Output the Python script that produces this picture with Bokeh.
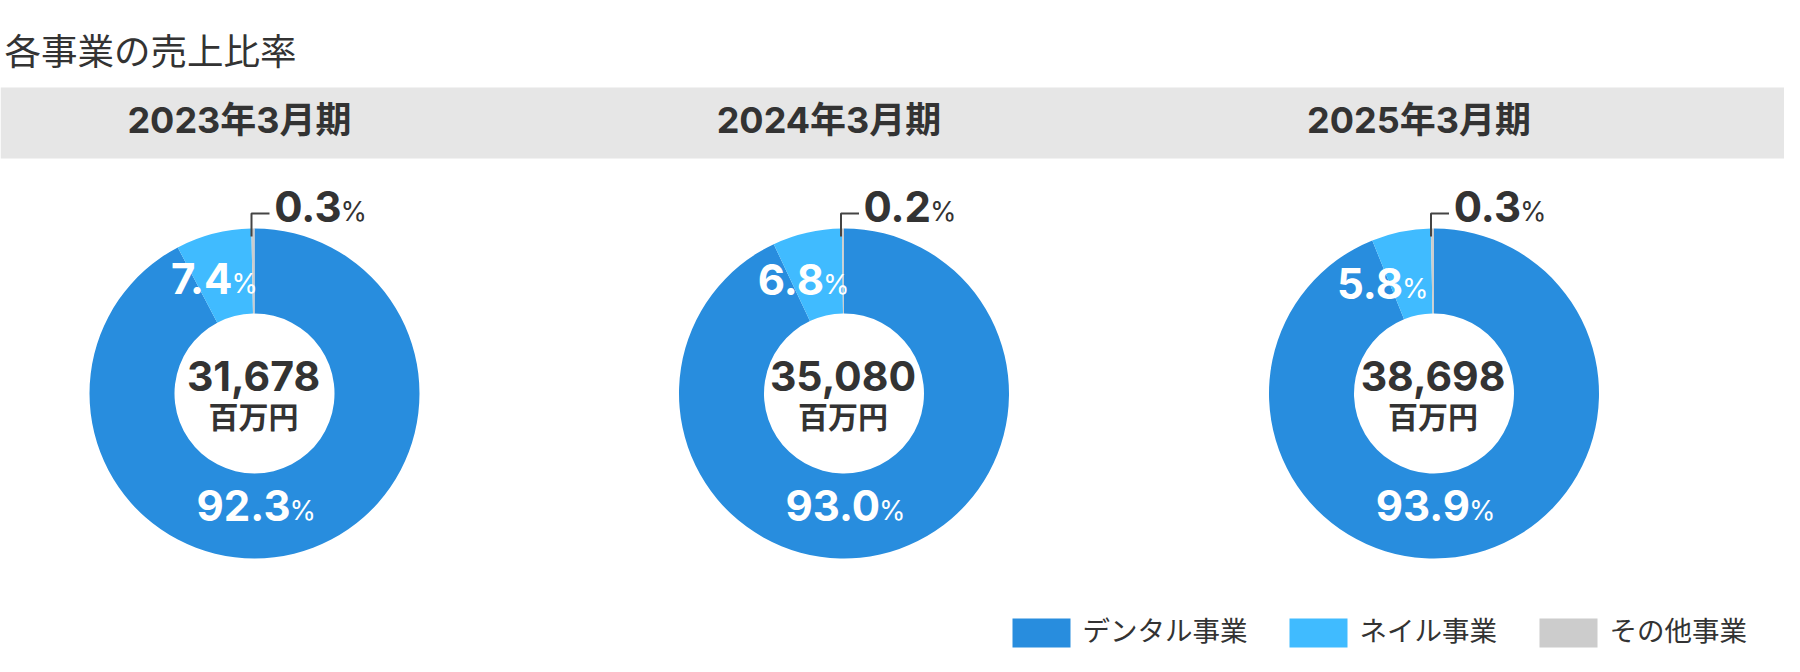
import math
from bokeh.plotting import figure
from bokeh.models import Range1d, ColumnDataSource
from bokeh.core.properties import value
from bokeh.embed import file_html
from bokeh.resources import INLINE

# ---------------- data ----------------
title = "各事業の売上比率"
periods = ["2023年3月期", "2024年3月期", "2025年3月期"]
totals = [31678, 35080, 38698]
unit = "百万円"
segments = ["デンタル事業", "ネイル事業", "その他事業"]
dental = [92.3, 93.0, 93.9]
nail = [7.4, 6.8, 5.8]
other = [0.3, 0.2, 0.3]
colors = ["#288dde", "#40bbff", "#cccccc"]

# ---------------- layout ----------------
W, H = 1784, 656
CJK = "Noto Sans CJK JP"
NUM = "Inter, 'Noto Sans CJK JP'"
DARK = "#333333"
centers_x = [254, 843.5, 1433.5]
center_y = 393
R_OUT, R_IN = 165, 80
nail_dx = [-22, -20, -31]
nail_dy = [-111, -110, -106]
FIX = 4  # vertical correction for "middle" baseline


def Y(v):
    return 672 - (v - FIX)


def YS(v):  # shapes (no text correction)
    return 672 - v


p = figure(width=W, height=H, x_range=Range1d(0, 1784), y_range=Range1d(16, 672),
           output_backend="svg", toolbar_location=None, min_border=0)
p.axis.visible = False
p.grid.visible = False
p.outline_line_color = None
p.background_fill_color = "white"
p.border_fill_color = "white"

# title
p.text(x=[4], y=[Y(53)], text=[title], text_font=value(CJK), text_font_size="36.5px",
       text_color=DARK, text_baseline="middle", text_align="left")

# grey header band
p.quad(left=[0], right=[1800], bottom=[YS(158)], top=[YS(87)], fill_color="#e6e6e6", line_color=None)

# donuts
wx, wy, ws, we, wc = [], [], [], [], []
series = [dental, nail, other]
for i, cx in enumerate(centers_x):
    f0 = 0.0
    for k in range(3):
        f1 = f0 + series[k][i] / 100.0
        wx.append(cx)
        wy.append(YS(center_y))
        ws.append(math.pi / 2 - 2 * math.pi * f0)
        we.append(math.pi / 2 - 2 * math.pi * f1)
        wc.append(colors[k])
        f0 = f1
src = ColumnDataSource(dict(x=wx, y=wy, s=ws, e=we, c=wc))
p.annular_wedge(x="x", y="y", inner_radius=R_IN, outer_radius=R_OUT, start_angle="s", end_angle="e",
                direction="clock", fill_color="c", line_color=None, source=src)

# period labels
p.text(x=[cx - 15 for cx in centers_x], y=[Y(123.5)] * 3, text=periods, text_font=value(NUM),
       text_font_size="36px", text_font_style="bold", text_color=DARK,
       text_baseline="middle", text_align="center")

# totals in centre
p.text(x=[cx - 1 for cx in centers_x], y=[Y(379)] * 3, text=[f"{t:,}" for t in totals],
       text_font=value(NUM), text_font_size="41px", text_font_style="bold", text_color=DARK,
       text_baseline="middle", text_align="center")
p.text(x=[cx - 1 for cx in centers_x], y=[Y(418.5)] * 3, text=[unit] * 3,
       text_font=value(CJK), text_font_size="30px", text_font_style="bold", text_color=DARK,
       text_baseline="middle", text_align="center")


def pct_label(xs, ys, vals, color):
    p.text(x=xs, y=[Y(v) for v in ys], text=[f"{v:.1f}" for v in vals], text_font=value(NUM),
           text_font_size="42px", text_font_style="bold", text_color=color,
           text_baseline="middle", text_align="right")
    p.text(x=[x - 1 for x in xs], y=[Y(v + 5) for v in ys], text=["%"] * len(xs), text_font=value(NUM),
           text_font_size="27px", text_color=color, text_baseline="middle", text_align="left")


pct_label([cx + 36 for cx in centers_x], [509] * 3, dental, "white")
pct_label([cx + dx for cx, dx in zip(centers_x, nail_dx)], [center_y + dy for dy in nail_dy], nail, "white")
pct_label([cx + 87 for cx in centers_x], [210] * 3, other, DARK)

# leader lines for the small slice
p.multi_line(xs=[[cx - 3, cx - 3, cx + 15] for cx in centers_x],
             ys=[[YS(236), YS(213), YS(213)] for _ in centers_x], line_color="#444444", line_width=2)

# legend
lx = [1012, 1289, 1539]
p.quad(left=lx, right=[x + 58 for x in lx], bottom=[YS(647)] * 3, top=[YS(618)] * 3,
       fill_color=colors, line_color=None)
p.text(x=[x + 70 for x in lx], y=[Y(632)] * 3, text=segments, text_font=value(CJK), text_font_size="27.5px",
       text_color=DARK, text_baseline="middle", text_align="left")

open("out.html", "w").write(file_html(p, INLINE))
